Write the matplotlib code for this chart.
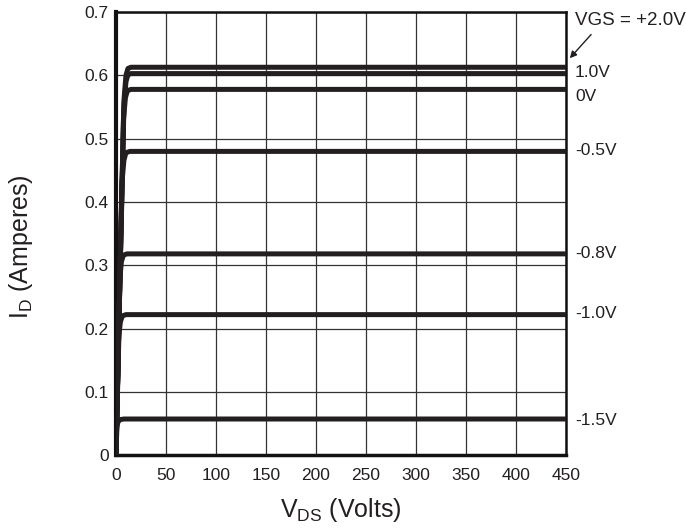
import matplotlib.pyplot as plt

plt.rcParams['font.family'] = ['Liberation Sans', 'DejaVu Sans']

# gate-source voltage labels and curve points (VDS in volts, ID in amperes)
vgs_labels = ['VGS = +2.0V', '1.0V', '0V', '-0.5V', '-0.8V', '-1.0V', '-1.5V']
vds_pts = [
    [0, 8, 10, 12, 15, 450],
    [0, 8, 10, 12, 15, 450],
    [0, 7.5, 9.5, 11.5, 15, 450],
    [0, 6, 8, 10, 14, 450],
    [0, 4, 5.5, 7.5, 11, 450],
    [0, 3, 4.5, 6.5, 10, 450],
    [0, 1, 2, 4, 8, 450],
]
id_pts = [
    [0, 0.56, 0.600, 0.611, 0.613, 0.613],
    [0, 0.55, 0.590, 0.601, 0.603, 0.603],
    [0, 0.53, 0.565, 0.576, 0.578, 0.578],
    [0, 0.43, 0.466, 0.478, 0.480, 0.480],
    [0, 0.28, 0.306, 0.316, 0.318, 0.318],
    [0, 0.19, 0.211, 0.220, 0.222, 0.222],
    [0, 0.045, 0.052, 0.056, 0.057, 0.057],
]
label_y = [0.687, 0.605, 0.566, 0.482, 0.319, 0.224, 0.055]

fig = plt.figure(figsize=(6.86, 5.31), dpi=100)
ax = fig.add_axes([0.169, 0.143, 0.656, 0.834])

for x, y in zip(vds_pts, id_pts):
    ax.plot(x, y, color='#231f20', lw=3.6, solid_capstyle='round', solid_joinstyle='round', zorder=3)

ax.set_xlim(0, 450)
ax.set_ylim(0, 0.7)
ax.set_xticks(range(0, 451, 50))
ax.set_yticks([0, 0.1, 0.2, 0.3, 0.4, 0.5, 0.6, 0.7])
ax.set_yticklabels(['0', '0.1', '0.2', '0.3', '0.4', '0.5', '0.6', '0.7'])
ax.grid(True, color='#333333', lw=0.9)
ax.tick_params(length=0, labelsize=12.5, colors='#231f20')
ax.tick_params(axis='x', pad=9)
ax.tick_params(axis='y', pad=5)

for side, w in [('left', 3.0), ('bottom', 2.5), ('right', 1.8), ('top', 1.8)]:
    ax.spines[side].set_linewidth(w)
    ax.spines[side].set_color('#111111')

for i, (lab, yv) in enumerate(zip(vgs_labels, label_y)):
    ax.text(1.02, yv, lab, transform=ax.get_yaxis_transform(),
            fontsize=13.5 if i == 0 else 12.5,
            color='#231f20', va='center', ha='left')

ax.annotate('', xy=(452, 0.624), xytext=(477, 0.668), xycoords='data',
            annotation_clip=False,
            arrowprops=dict(arrowstyle='-|>', color='#231f20', lw=1.0, mutation_scale=10))

ax.set_xlabel('V$_{\\mathregular{DS}}$ (Volts)', fontsize=18, color='#231f20', labelpad=10)
ax.set_ylabel('I$_{\\mathregular{D}}$ (Amperes)', fontsize=18, color='#231f20')
ax.yaxis.set_label_coords(-0.18, 0.47)

plt.savefig('out.png', dpi=100)
